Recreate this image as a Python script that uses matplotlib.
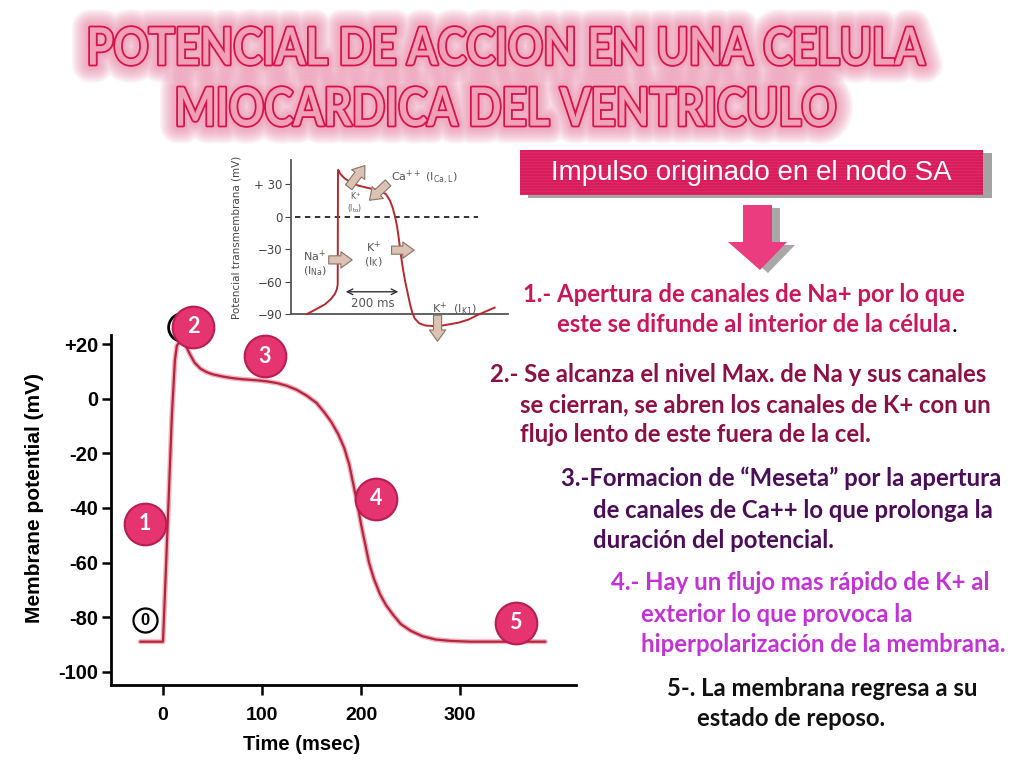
import matplotlib
matplotlib.use("Agg")
import matplotlib.pyplot as plt
import matplotlib.patheffects as pe
from matplotlib.patches import Rectangle, Polygon, PathPatch
from matplotlib.textpath import TextPath
from matplotlib.font_manager import FontProperties
from matplotlib.transforms import Affine2D

# main action potential (ventricular myocyte)
t_main = [-23, 0, 3, 6, 9, 12, 14, 17, 20, 23, 27, 32, 38, 44, 50, 60, 70, 80, 95,
          105, 115, 125, 135, 145, 155, 163, 170, 177, 183, 188, 192, 196, 200,
          204, 208, 213, 219, 225, 232, 240, 250, 262, 275, 290, 310, 340, 386]
v_main = [-89, -89, -62, -34, -6, 14, 19.5, 21, 21, 19.5, 16.5, 13.2, 11, 9.8, 9,
          8.2, 7.6, 7.2, 6.8, 6.4, 5.8, 4.8, 3.3, 1.2, -1.5, -5, -8.5, -13, -18,
          -24, -31, -38, -46, -53, -60, -66, -71.5, -75.5, -79, -82.5, -85, -87,
          -88.2, -88.7, -89, -89, -89]
main_xticks = [0, 100, 200, 300]
main_yticks = [20, 0, -20, -40, -60, -80, -100]
main_ytick_labels = ["+20", "0", "-20", "-40", "-60", "-80", "-100"]

# phase markers on the main curve
phase_labels = ["1", "2", "3", "4", "5"]
phase_t = [-18, 30.5, 103, 215, 356]
phase_v = [-45.7, 26.5, 15.6, -36.6, -82]

# small inset (transmembrane potential with currents)
t_ins = [-109, -80, -46, -25, -11, -5, -2, -1, 0, 5, 15, 23, 40, 69, 100, 126,
         150, 165, 178, 188, 196, 203, 209, 215, 222, 230, 240, 248, 256, 264,
         280, 300, 330, 360, 414, 450, 483, 540]
v_ins = [-90, -86, -81, -76, -71, -67, -63, 40, 43, 40, 37, 35, 32, 28.5, 26.5, 25,
         23, 20.5, 15, 8, 0, -9, -20, -33, -46, -58.5, -71, -81, -89, -94, -98.5,
         -100.5, -101, -100.5, -98, -95, -90.6, -84]
ins_yticks = [30, 0, -30, -60, -90]
ins_ytick_labels = ["+ 30", "0", "\u221230", "\u221260", "\u221290"]

title_lines = ["POTENCIAL DE ACCION EN UNA CELULA", "MIOCARDICA DEL VENTRICULO"]
box_text = "Impulso originado en el nodo SA"

steps = [
    (["1.- Apertura de canales de Na+ por lo que", "este se difunde al interior de la c\u00e9lula"],
     "#c9175c", [(523, 295), (557, 325)]),
    (["2.- Se alcanza el nivel Max. de Na y sus canales",
      "se cierran, se abren los canales de K+ con un",
      "flujo lento de este fuera de la cel."],
     "#8c0f45", [(490, 375), (520, 405), (520, 435)]),
    (["3.-Formacion de \u201cMeseta\u201d por la apertura",
      "de canales de Ca++ lo que prolonga la",
      "duraci\u00f3n del potencial."],
     "#4b0d58", [(561, 478), (593, 510), (593, 541)]),
    (["4.- Hay un flujo mas r\u00e1pido de K+ al",
      "exterior lo que provoca la",
      "hiperpolarizaci\u00f3n de la membrana."],
     "#c233d4", [(611, 583), (641, 614), (641, 645)]),
    (["5-. La membrana regresa a su", "estado de reposo."],
     "#111111", [(667, 688), (697, 718)]),
]

pink = "#e5346f"
fig = plt.figure(figsize=(10.24, 7.68), dpi=100)
fig.patch.set_facecolor("white")

# ---- main chart
ax = fig.add_axes([0.1081, 0.1087, 0.4544, 0.4551])
ax.patch.set_alpha(0)
ax.plot(t_main, v_main, color="#b3263d", lw=1.6, solid_capstyle="round",
        path_effects=[pe.Stroke(linewidth=3.6, foreground="#f3b0be"), pe.Normal()], zorder=3)
ax.set_xlim(-52.8, 417)
ax.set_ylim(-104.7, 23.4)
ax.set_xticks(main_xticks)
ax.set_yticks(main_yticks)
ax.set_yticklabels(main_ytick_labels)
for s in ["top", "right"]:
    ax.spines[s].set_visible(False)
for s in ["left", "bottom"]:
    ax.spines[s].set_linewidth(2)
ax.tick_params(axis="x", direction="out", length=7, width=1.8, labelsize=14, pad=9)
ax.tick_params(axis="y", direction="out", length=6.5, width=1.8, labelsize=14.5, pad=2.5)
for lab in ax.get_xticklabels() + ax.get_yticklabels():
    lab.set_fontweight("bold")
    lab.set_family("Liberation Sans")
ax.set_ylabel("Membrane potential (mV)", fontsize=15, fontweight="bold",
              family="Liberation Sans")
ax.yaxis.set_label_coords(-0.143, 0.534)
ax.set_xlabel("Time (msec)", fontsize=14.5, fontweight="bold", family="Liberation Sans")
ax.xaxis.set_label_coords(0.411, -0.1445)

# open circles (original labels)
ax.scatter([-18], [-81.2], s=300, facecolor="white", edgecolor="black", lw=1.6,
           zorder=4, clip_on=False)
ax.text(-18, -81.2, "0", ha="center", va="center", fontsize=12, fontweight="bold",
        family="Liberation Sans", zorder=5)
ax.scatter([19], [26.3], s=400, facecolor="white", edgecolor="black", lw=2,
           zorder=4, clip_on=False)
ax.scatter(phase_t, phase_v, s=900, facecolor=pink, edgecolor="#b81e52", lw=1.5,
           zorder=6, clip_on=False)
for lab, x, y in zip(phase_labels, phase_t, phase_v):
    ax.text(x, y, lab, ha="center", va="center", color="white", fontsize=15.5,
            fontweight="bold", family="Lato", zorder=7)

# ---- inset
ai = fig.add_axes([0.284, 0.591, 0.212, 0.2005])
ai.patch.set_alpha(0)
ai.plot(t_ins, v_ins, color="#b42a2e", lw=1.4, clip_on=False, zorder=3)
ai.plot([-148, 483], [0, 0], color="#222222", lw=1.3, ls=(0, (3, 2.5)))
ai.set_xlim(-164, 586)
ai.set_ylim(-90, 52)
ai.set_xticks([])
ai.set_yticks(ins_yticks)
ai.set_yticklabels(ins_ytick_labels)
for s in ["top", "right"]:
    ai.spines[s].set_visible(False)
for s in ["left", "bottom"]:
    ai.spines[s].set_color("#555555")
    ai.spines[s].set_linewidth(1.3)
ai.tick_params(axis="y", direction="out", length=4, colors="#444444", labelsize=8.5, pad=2)
ai.set_ylabel("Potencial transmembrana (mV)", fontsize=7.5, color="#444444",
              family="Liberation Sans Narrow")
ai.yaxis.set_label_coords(-0.225, 0.5)

tan = dict(arrowstyle="simple,head_width=1.3,head_length=0.9,tail_width=0.65",
           fc="#dcc2b2", ec="#8a7266", lw=0.8, mutation_scale=9,
           shrinkA=0, shrinkB=0)
for xy, xytext in [((92, 47), (36, 27)), ((108, 15), (172, 31)), ((262, -31), (184, -31)),
                   ((48, -40), (-33, -40)), ((343, -115), (343, -91))]:
    ai.annotate("", xy=xy, xytext=xytext, arrowprops=tan, annotation_clip=False)
ai.annotate("", xy=(217, -69.4), xytext=(16, -69.4),
            arrowprops=dict(arrowstyle="<->", color="#333333", lw=1), annotation_clip=False)
gray_txt = dict(color="#555555", family="Liberation Sans Narrow", ha="center", va="center")
ai.text(182, 36, "Ca$^{++}$ (I$_{\\mathrm{Ca,L}}$)", fontsize=8, **{**gray_txt, "ha": "left"})
ai.text(58, 13, "K$^{+}$\n(I$_{\\mathrm{to}}$)", fontsize=5.5, linespacing=1.0, **gray_txt)
ai.text(-82, -43, "Na$^{+}$\n(I$_{\\mathrm{Na}}$)", fontsize=8, linespacing=1.1, **gray_txt)
ai.text(122, -35, "K$^{+}$\n(I$_{\\mathrm{K}}$)", fontsize=8, linespacing=1.1, **gray_txt)
ai.text(119, -80, "200 ms", fontsize=8.5, **gray_txt)
ai.text(401, -84.5, "K$^{+}$  (I$_{\\mathrm{K1}}$)", fontsize=8, **gray_txt)

# ---- overlay in pixel coordinates for the slide decorations
ov = fig.add_axes([0, 0, 1, 1], zorder=10)
ov.patch.set_alpha(0)
ov.set_xlim(0, 1024)
ov.set_ylim(768, 0)
ov.axis("off")

# soft pink glow: many thin rings stacked, then crimson outline
glow = [pe.Stroke(linewidth=w, foreground="#e8709a", alpha=0.07, joinstyle="round",
                  capstyle="round")
        for w in range(26, 4, -2)]
glow += [pe.Stroke(linewidth=2.6, foreground="#d8134c", joinstyle="round"), pe.Normal()]
fp_title = FontProperties(family="Lato", weight="bold")
for line, (x0, x1, ytop, ybot) in zip(title_lines, [(90, 925, 27, 65), (178, 835, 87, 126)]):
    tp = TextPath((0, 0), line, size=100, prop=fp_title)
    ext = tp.get_extents()
    tr = (Affine2D().translate(-ext.x0, -ext.y0)
          .scale((x1 - x0) / ext.width, -(ybot - ytop) / ext.height)
          .translate(x0, ybot))
    ov.add_patch(PathPatch(tr.transform_path(tp), fc="#f0a0b8", ec="none",
                           path_effects=glow))

ov.add_patch(Rectangle((528, 153), 464, 45, fc="#a3a3a3", ec="none"))
ov.add_patch(Rectangle((520, 150), 463, 45, fc="#d91c5c", ec="none"))
for yy in range(152, 195, 3):
    ov.plot([520, 983], [yy, yy], color="white", lw=0.4, alpha=0.12)
ov.text(751, 173, box_text, ha="center", va="center", color="white", fontsize=20,
        family="Liberation Sans")

arrow_x = [743, 772, 772, 787, 760, 728, 743]
arrow_y = [205, 205, 242, 242, 270, 242, 242]
ov.add_patch(Polygon(list(zip([x + 8 for x in arrow_x], [y + 3 for y in arrow_y])),
                     fc="#a8a8a8", ec="none"))
ov.add_patch(Polygon(list(zip(arrow_x, arrow_y)), fc="#ea3c7e", ec="none"))

step_texts = []
for lines, color, pos in steps:
    for line, (x, y) in zip(lines, pos):
        step_texts.append(ov.text(x, y, line, ha="left", va="center", color=color,
                                  fontsize=17.2, fontweight="bold", family="Lato"))

# black full stop right after "célula"
fig.canvas.draw()
bb = step_texts[1].get_window_extent()
x_end = ov.transData.inverted().transform((bb.x1, 0))[0]
ov.text(x_end + 1, 325, ".", ha="left", va="center", color="black", fontsize=17.2,
        family="Lato")

fig.savefig("out.png", dpi=100)
